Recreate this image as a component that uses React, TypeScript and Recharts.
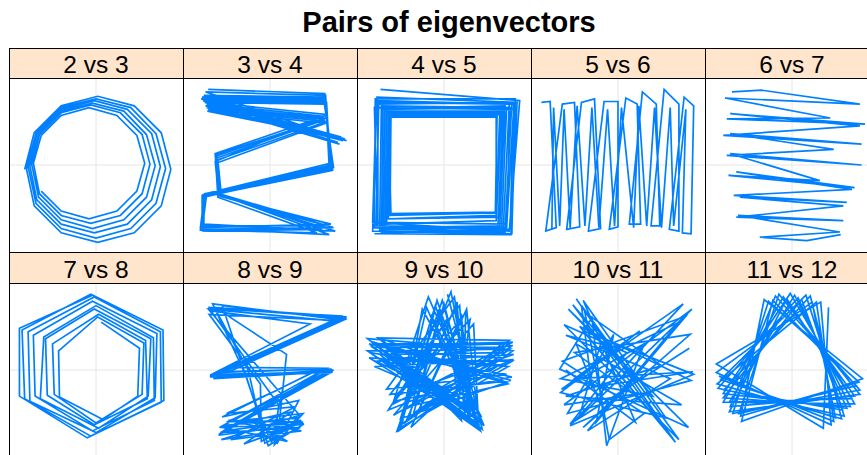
import React from 'react';
import { LineChart, Line, XAxis, YAxis, ReferenceLine } from 'recharts';

// panel labels, in lattice order (left to right, top row first)
const labels = ['2 vs 3', '3 vs 4', '4 vs 5', '5 vs 6', '6 vs 7', '7 vs 8', '8 vs 9', '9 vs 10', '10 vs 11', '11 vs 12'];

// eigenvector values, scaled so that the panel spans -100..100
const pairs23: [number, number][] = [
  [-63, -30], [-40, -53], [-8, -62], [24, -53], [47, -30], [56, 2], [47, 34], [24, 57], [-8, 66], [-40, 57], [-63, 34], [-72, 2],
  [-65, -33], [-40, -58], [-6, -67], [28, -58], [53, -33], [62, 1], [53, 35], [28, 60], [-6, 69], [-40, 60], [-65, 35], [-74, 1],
  [-66, -37], [-40, -63], [-4, -73], [32, -63], [58, -37], [68, -1], [58, 35], [32, 62], [-4, 71], [-40, 62], [-66, 35], [-76, -1],
  [-68, -40], [-40, -68], [-2, -78], [36, -68], [64, -40], [74, -2], [64, 36], [36, 64], [-2, 74], [-40, 64], [-68, 36], [-78, -2],
  [-69, -44], [-40, -73], [0, -84], [40, -73], [69, -44], [80, -4], [69, 36], [40, 66], [0, 76], [-40, 66], [-69, 36], [-80, -4],
  [-71, -47], [-40, -78], [2, -89], [44, -78], [75, -47], [86, -5], [75, 37], [44, 68], [2, 79], [-40, 68], [-71, 37], [-82, -5],
];

const pairs34: [number, number][] = [
  [-71, 87], [63, 82], [70, -4], [-75, -33], [-80, -72], [70, -68], [-60, -35], [-63, 13], [62, 56], [-72, 70], [80, 30],
  [-74, 84], [64, 80], [68, -2], [-73, -35], [-78, -74], [73, -72], [-58, -33], [-62, 10], [64, 54], [-74, 68], [84, 28],
  [-76, 80], [63, 78], [72, -6], [-75, -36], [-79, -70], [66, -70], [-57, -36], [-61, 8], [63, 52], [-73, 66], [88, 28],
  [-78, 78], [64, 76], [70, 0], [-77, -34], [-77, -76], [60, -74], [-56, -34], [-60, 6], [65, 50], [-71, 64], [82, 32],
  [-79, 76], [62, 74], [73, -3], [-76, -37], [-76, -68], [75, -76], [-59, -35], [-63, 4], [66, 58], [-70, 72], [78, 26],
  [-77, 74], [65, 72], [69, 2], [-74, -33], [-80, -75], [54, -78], [-60, -37], [-62, 2], [64, 48], [-72, 62], [86, 30],
  [-75, 72], [63, 70], [71, -5], [-78, -35], [-78, -73], [68, -80], [-58, -34], [-61, 12], [63, 53], [-73, 69], [80, 24],
];

const pairs45: [number, number][] = [
  [-73, 87], [87, 74], [75, -76], [-82, -66],
  [-78, 70], [78, 72], [70, -78], [-76, -72],
  [-80, 66], [80, 64], [72, -72], [-78, -70],
  [-75, 72], [75, 70], [68, -76], [-74, -76],
  [-72, 68], [72, 66], [66, -74], [-72, -78],
  [-70, 65], [70, 68], [64, -72], [-70, -74],
  [-68, 62], [68, 62], [62, -70], [-68, -72],
  [-66, 60], [66, 60], [60, -64], [-66, -68],
  [-64, 58], [64, 58], [60, -58], [-64, -62],
  [-62, 56], [61, 56], [59, -55], [-62, -58],
  [-61, 55], [60, 55], [60, -54], [-61, -56],
  [-64, 62], [70, 60], [64, -60], [-66, -62],
  [-72, 64], [76, 66], [72, -68], [-76, -66],
  [-76, 74], [80, 70], [76, -74], [-80, -72],
  [-79, 76], [82, 76], [78, -79], [-82, -76],
  [-77, 78], [84, 72], [77, -80], [-80, -79],
];

const pairs56: [number, number][] = [
  [-88, 72], [-78, 73], [-71, -72], [-83, -76],
  [-64, 70], [-50, 72], [-44, -71], [-59, -74],
  [-42, 72], [-27, 76], [-20, -73], [-34, -76],
  [-16, 73], [0, 73], [0, -71], [-10, -74],
  [9, 77], [22, 70], [26, -68], [13, -68],
  [28, 84], [44, 70], [48, -70], [38, -70],
  [53, 87], [70, 70], [70, -76], [59, -74],
  [76, 78], [87, 68], [84, -79], [74, -78],
  [78, 64], [64, -70], [60, 66], [50, -72], [42, 66], [33, -70], [24, 68], [18, -72], [4, 66], [-4, -70],
  [-12, 64], [-22, -72], [-30, 66], [-38, -70], [-47, 68], [-55, -72], [-62, 64], [-67, -70], [-74, 66], [-76, -73],
];

const pairs67: [number, number][] = [
  [-69, 84], [-35, 86], [78, 70], [-77, 77], [44, 54], [-75, 53], [84, 47], [-71, 59], [78, 45], [-79, 34],
  [80, 24], [-71, 36], [48, 18], [-75, 11], [80, 0], [-71, 13], [32, -18], [-73, -12], [72, -26], [-64, -8],
  [69, -28], [-67, -35], [63, -43], [-60, -37], [59, -47], [-64, -60], [59, -64], [-62, -58], [55, -77],
  [-37, -83], [17, -87], [56, -80],
];

const pairs78: [number, number][] = [
  [6, 55], [50, 25], [48, -30], [8, -57], [-42, -31], [-43, 22],
  [2, 61], [55, 31], [53, -28], [0, -61], [-48, -28], [-50, 30],
  [3, 64], [57, 34], [59, -33], [-2, -63], [-56, -29], [-58, 36],
  [-2, 70], [63, 36], [60, -30], [3, -67], [-64, -33], [-60, 38],
  [0, 74], [66, 37], [67, -35], [-4, -70], [-70, -30], [-72, 40],
  [-4, 79], [70, 42], [68, -32], [0, -72], [-76, -36], [-78, 44],
  [-2, 84], [74, 44], [75, -37], [-6, -76], [-82, -33], [-85, 46],
  [-6, 87], [77, 46], [78, -35], [-10, -78], [-88, -30], [-88, 48],
  [-4, 86],
];

const pairs89: [number, number][] = [
  [-71, 72], [88, 60], [-69, -8], [73, 0], [-59, -75], [39, -62], [-2, -87], [-27, -8],
  [-66, 76], [80, 58], [-63, -3], [57, 1], [-55, -54], [33, -35], [8, -85], [19, 18],
  [-60, 70], [84, 62], [-67, -5], [70, -3], [-52, -70], [36, -58], [-10, -82], [-11, -16],
  [-70, 64], [73, 57], [-42, 3], [65, 2], [-58, -66], [30, -62], [0, -80], [-20, -30],
  [-55, 74], [86, 58], [-65, -10], [72, -2], [-50, -60], [38, -50], [5, -86], [10, -40],
  [-68, 68], [46, 53], [-69, -6], [60, -2], [-57, -72], [35, -66], [-6, -84], [-25, 0],
  [-64, 72], [88, 61], [-60, -2], [71, 1], [-54, -64], [32, -55], [2, -82], [15, -20],
  [-50, -50], [30, -42], [-45, -80], [36, -70], [-20, -60], [20, -82], [-55, -66], [25, -48],
  [-30, -85], [38, -60], [-48, -58], [10, -70], [-56, -80], [34, -52],
  [-71, 70], [78, 56], [-66, -8], [68, -1], [-59, -74],
];

const pairs910: [number, number][] = [
  [4, 87], [44, -68], [-88, 36], [79, 22], [-52, -70],
  [-20, 72], [36, -56], [-80, 30], [76, 30], [-60, -40],
  [25, 66], [22, -40], [-70, 12], [78, 10], [-40, -55],
  [-8, 80], [40, -62], [-85, 20], [72, -5], [-66, -22],
  [12, 84], [30, -48], [-76, 37], [75, 34], [-48, -62],
  [-25, 70], [42, -52], [-64, 8], [80, 18], [-56, -30],
  [30, 58], [17, -35], [-82, 26], [70, 26], [-35, -50],
  [0, 76], [38, -66], [-72, 30], [77, -12], [-62, -28],
  [18, 74], [28, -58], [-86, 14], [74, 4], [-50, -66],
  [-14, 62], [44, -60], [-68, 22], [68, 14], [-44, -45],
  [8, 90], [34, -44], [-78, 10], [79, 28], [-58, -52],
  [34, 53], [40, -68], [-84, 33], [73, -16], [-33, -40],
  [-5, 66], [32, -62], [-74, 18], [70, 20], [-44, -60],
  [15, 78], [24, -52], [-86, 30], [78, -8], [-58, -36],
  [-18, 84], [46, -64], [-66, 26], [66, 30], [-38, -66],
  [26, 70], [38, -46], [-80, 4], [80, 12], [-64, -46],
  [3, 58], [20, -58], [-72, 36], [72, -14], [-50, -56],
  [-10, 74], [42, -70], [-88, 22], [76, 24], [-30, -48],
  [20, 62], [30, -38], [-62, 14], [64, 6], [-54, -70],
  [-2, 80], [36, -60], [-78, 28], [79, 32], [-46, -34],
];

const pairs1011: [number, number][] = [
  [-48, 82], [66, -83], [-40, 45], [87, -5], [-55, -64], [75, 76], [-65, -22], [30, 30], [-13, -87], [-30, 60],
  [-67, 1], [81, -66], [-57, 70], [20, -10], [-40, -66], [83, 41], [-50, 20], [18, -28], [-62, -40], [85, 70],
  [-45, -55], [-20, 30], [-60, 40], [60, -10], [-35, -70], [70, 55], [-66, -10], [40, -30], [-52, 75], [60, -75],
  [-44, 50], [84, -12], [-58, -50], [-5, 41], [-25, -60], [78, 62], [-64, 10], [30, -50], [-10, -80], [-38, 66],
  [50, 5], [-60, -30], [73, -40], [-48, 30], [-20, -40], [82, 25], [-55, -62], [10, 20], [-62, 52], [70, -80],
  [-42, 74], [-30, -20], [86, -2], [-50, -10], [25, 45], [-66, -26], [55, -55], [-40, 80], [20, -60], [-60, 0],
];

const pairs1112: [number, number][] = [
  [42, 72], [36, -67], [-87, 7],
  [33, 78], [45, -63], [-87, -3],
  [23, 78], [50, -55], [-82, -11],
  [16, 86], [60, -53], [-85, -21],
  [7, 83], [63, -44], [-79, -27],
  [-2, 88], [72, -39], [-79, -37],
  [-10, 84], [72, -30], [-71, -42],
  [-19, 85], [78, -23], [-68, -50],
  [-27, 79], [77, -14], [-59, -53],
  [-32, 81], [81, -10], [-58, -59],
  [-22, 80], [74, -18], [-61, -50],
  [-15, 87], [78, -28], [-72, -48],
  [-6, 82], [69, -33], [-72, -37],
  [3, 86], [67, -42], [-79, -32],
  [11, 81], [58, -46], [-78, -23],
  [21, 85], [57, -56], [-86, -16],
  [28, 78], [48, -59], [-84, -7],
];

const panelPoints = [pairs23, pairs34, pairs45, pairs56, pairs67, pairs78, pairs89, pairs910, pairs1011, pairs1112];

const PANEL = 174;
const LEFT = 9;
const ROWS = [
  { stripTop: 48, stripH: 30 },
  { stripTop: 252, stripH: 31 },
];
const FONT = '"Liberation Sans", Arial, Helvetica, sans-serif';

function Panel({ label, points, left, stripTop, stripH }: any) {
  const data = points.map(([x, y]: [number, number]) => ({ x, y }));
  return (
    <div style={{ position: 'absolute', left, top: stripTop, width: PANEL }}>
      <div
        style={{
          height: stripH,
          background: '#ffe5cc',
          textAlign: 'center',
          fontFamily: FONT,
          fontSize: 24.5,
          lineHeight: `${stripH}px`,
          color: '#000',
          paddingTop: 2,
          boxSizing: 'border-box',
        }}
      >
        {label}
      </div>
      <LineChart width={PANEL} height={PANEL} data={data} margin={{ top: 0, right: 0, bottom: 0, left: 0 }}>
        <XAxis type="number" dataKey="x" domain={[-100, 100]} hide />
        <YAxis type="number" dataKey="y" domain={[-100, 100]} hide />
        <ReferenceLine x={0} stroke="#e6e6e6" strokeWidth={1} />
        <ReferenceLine y={0} stroke="#e6e6e6" strokeWidth={1} />
        <Line
          type="linear"
          dataKey="y"
          stroke="#0080ff"
          strokeWidth={1.7}
          dot={false}
          isAnimationActive={false}
        />
      </LineChart>
    </div>
  );
}

export default function App() {
  return (
    <div
      style={{
        position: 'fixed',
        left: 0,
        top: 0,
        width: 867,
        height: 455,
        overflow: 'hidden',
        background: '#fff',
      }}
    >
      <div
        style={{
          position: 'absolute',
          left: 0,
          top: 8,
          width: 898,
          textAlign: 'center',
          fontFamily: FONT,
          fontWeight: 'bold',
          fontSize: 29,
          lineHeight: '29px',
          color: '#000',
        }}
      >
        Pairs of eigenvectors
      </div>
      {labels.map((label, i) => {
        const row = ROWS[Math.floor(i / 5)];
        return (
          <Panel
            key={label}
            label={label}
            points={panelPoints[i]}
            left={LEFT + (i % 5) * PANEL}
            stripTop={row.stripTop}
            stripH={row.stripH}
          />
        );
      })}
      {/* strip and panel borders */}
      <svg width={900} height={470} style={{ position: 'absolute', left: 0, top: 0, pointerEvents: 'none' }}>
        {labels.map((label, i) => {
          const row = ROWS[Math.floor(i / 5)];
          const x = LEFT + (i % 5) * PANEL + 0.5;
          return (
            <g key={label} fill="none" stroke="#000" strokeWidth={1}>
              <rect x={x} y={row.stripTop + 0.5} width={PANEL} height={row.stripH} />
              <rect x={x} y={row.stripTop + row.stripH + 0.5} width={PANEL} height={PANEL} />
            </g>
          );
        })}
      </svg>
    </div>
  );
}
